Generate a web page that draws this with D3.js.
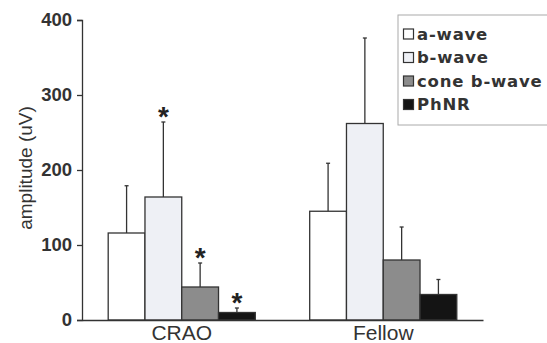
<!DOCTYPE html>
<html><head><meta charset="utf-8">
<script src="https://cdn.jsdelivr.net/npm/d3@7"></script>
<style>body{margin:0;background:#fff}svg{display:block}</style>
</head><body>
<svg id="c" width="547" height="343"></svg>
<script>
const groups = ["CRAO", "Fellow"];
const seriesNames = ["a-wave", "b-wave", "cone b-wave", "PhNR"];
const means = {
  "CRAO":   [116, 164, 44, 10],
  "Fellow": [145, 262, 80, 34]
};
const errs = {
  "CRAO":   [63, 100, 32, 6],
  "Fellow": [64, 114, 44, 20]
};
const stars = {
  "CRAO":   [false, true, true, true],
  "Fellow": [false, false, false, false]
};
const yTicks = [0, 100, 200, 300, 400];
const colors = ["#ffffff", "#eef0f5", "#8c8c8c", "#141414"];

const svg = d3.select("#c");
const m = {l: 82, r: 64, t: 20, b: 23};
const W = 547, H = 343;
const y = d3.scaleLinear().domain([0, 400]).range([H - m.b, m.t]);
const x0 = d3.scaleBand().domain(groups).range([m.l, 483]).paddingInner(0.27).paddingOuter(0.13);
const x1 = d3.scaleBand().domain(seriesNames).range([0, x0.bandwidth()]);

const data = [];
groups.forEach(g => seriesNames.forEach((s, i) => data.push({g, s, i, v: means[g][i], e: errs[g][i], star: stars[g][i]})));

// error bars
const eb = svg.append("g").attr("stroke", "#333").attr("stroke-width", 1.3);
data.forEach(d => {
  const cx = x0(d.g) + x1(d.s) + x1.bandwidth() / 2;
  eb.append("line").attr("x1", cx).attr("x2", cx).attr("y1", y(d.v)).attr("y2", y(d.v + d.e));
  eb.append("line").attr("x1", cx - 2).attr("x2", cx + 2).attr("y1", y(d.v + d.e)).attr("y2", y(d.v + d.e));
});

// bars
svg.append("g").selectAll("rect").data(data).join("rect")
  .attr("x", d => x0(d.g) + x1(d.s))
  .attr("y", d => y(d.v))
  .attr("width", x1.bandwidth())
  .attr("height", d => y(0) - y(d.v))
  .attr("fill", d => colors[d.i])
  .attr("stroke", "#333").attr("stroke-width", 1.3);

// stars
svg.append("g").selectAll("text").data(data.filter(d => d.star)).join("text")
  .attr("x", d => x0(d.g) + x1(d.s) + x1.bandwidth() / 2)
  .attr("y", d => y(d.v + d.e) - 11)
  .attr("text-anchor", "middle")
  .attr("font-family", "Liberation Sans, Arial, sans-serif")
  .attr("font-size", 28).attr("font-weight", "bold").attr("fill", "#222")
  .attr("dy", "0.55em")
  .text("*");

// y axis
const ya = svg.append("g").attr("transform", `translate(${m.l},0)`)
  .call(d3.axisLeft(y).tickValues(yTicks).tickSize(5).tickPadding(5));
ya.select(".domain").attr("stroke", "#333").attr("stroke-width", 1.3);
ya.selectAll(".tick line").attr("stroke", "#333").attr("stroke-width", 1.3);
ya.selectAll(".tick text").attr("font-family", "Liberation Sans, Arial, sans-serif")
  .attr("font-size", 18.5).attr("font-weight", "bold").attr("fill", "#333");

// x axis
const xa = svg.append("g").attr("transform", `translate(0,${y(0)})`)
  .call(d3.axisBottom(x0).tickSize(0).tickPadding(5));
xa.select(".domain").attr("stroke", "#333").attr("stroke-width", 1.3);
xa.selectAll(".tick text").attr("font-family", "Liberation Sans, Arial, sans-serif")
  .attr("font-size", 21).attr("fill", "#333");

// y label
svg.append("text")
  .attr("transform", `translate(25,${(y(0) + y(400)) / 2 - 2}) rotate(-90)`)
  .attr("text-anchor", "middle").attr("dy", "0.36em")
  .attr("font-family", "Liberation Sans, Arial, sans-serif")
  .attr("font-size", 19).attr("fill", "#333")
  .text("amplitude (uV)");

// legend
const lg = svg.append("g").attr("transform", "translate(398,15)");
lg.append("rect").attr("x", 0).attr("y", 0).attr("width", 160).attr("height", 110)
  .attr("fill", "#fff").attr("stroke", "#aaa").attr("stroke-width", 1);
seriesNames.forEach((s, i) => {
  const yy = 19 + i * 23.5;
  lg.append("rect").attr("x", 5.5).attr("y", yy - 5).attr("width", 10).attr("height", 10)
    .attr("fill", colors[i]).attr("stroke", "#333").attr("stroke-width", 1.2);
  lg.append("text").attr("x", 19).attr("y", yy).attr("dy", "0.36em")
    .attr("font-family", "DejaVu Sans, sans-serif")
    .attr("font-size", 16.5).attr("font-weight", "bold").attr("fill", "#333")
    .attr("letter-spacing", 0.8)
    .text(s);
});
</script>
</body></html>
